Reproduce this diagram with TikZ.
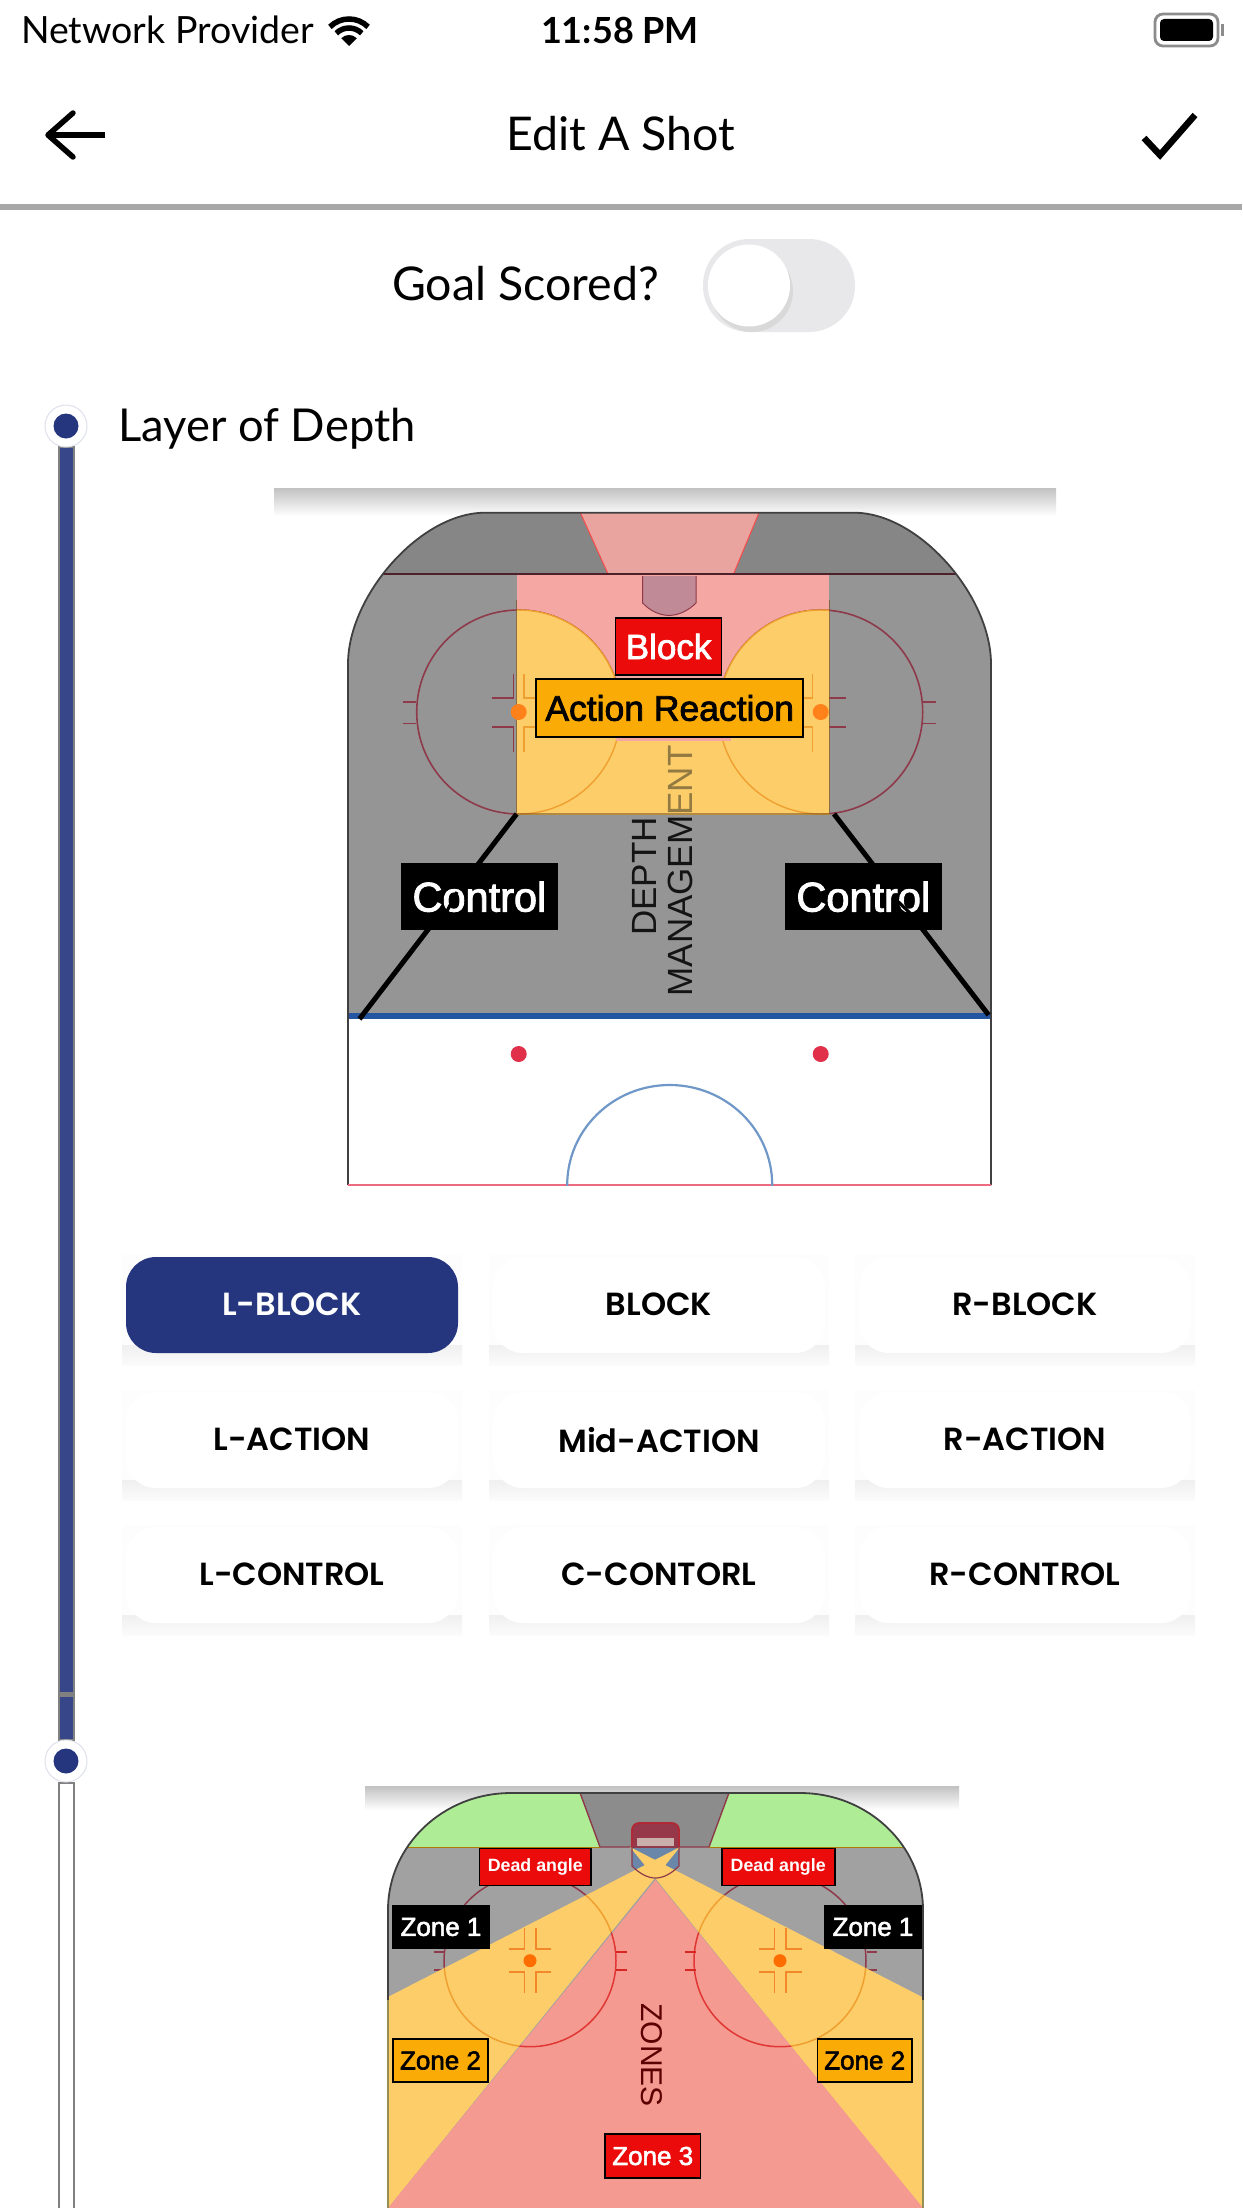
\documentclass[tikz,border=0pt]{standalone}
\usepackage{fontspec}
\setmainfont{Lato}
\newfontfamily\hel{Liberation Sans}
\newfontfamily\helb[FakeBold=2.2]{Liberation Sans}
\newfontfamily\btnf{Poppins SemiBold}
\usetikzlibrary{calc}
\definecolor{navy}{HTML}{25367F}
\definecolor{rinkgrey}{HTML}{959595}
\definecolor{rinktop}{HTML}{868686}
\definecolor{zpink}{HTML}{F4A7A3}
\definecolor{zyellow}{HTML}{FCCD69}
\definecolor{zred}{HTML}{F49A90}
\definecolor{zgreen}{HTML}{AEEC96}
\definecolor{dkred}{HTML}{8E3A4A}
\definecolor{orline}{HTML}{F0A030}
\definecolor{boxred}{HTML}{EC0B0B}
\definecolor{boxor}{HTML}{FBAB05}
\definecolor{blueline}{HTML}{2455A0}
\definecolor{creasea}{HTML}{C08A96}
\definecolor{creaseb}{HTML}{6A86A8}
\definecolor{netred}{HTML}{96384A}
\definecolor{reddot}{HTML}{E0304A}
\definecolor{creaseline}{HTML}{6F98C8}
\definecolor{pinkline}{HTML}{EE6A80}
\definecolor{track}{HTML}{E8E8EA}
\tikzset{
 label box/.style={draw=black,line width=1.6pt,inner sep=0pt,font=\hel},
 rbox/.style={label box,fill=boxred,text=white},
 obox/.style={label box,fill=boxor,text=black},
 kbox/.style={label box,fill=black,text=white},
 btn/.style={fill=white,rounded corners=30pt,minimum width=332pt,minimum height=96pt,inner sep=0pt,font=\btnf\fontsize{32}{36}\selectfont},
 plain/.style={inner sep=0pt,text=black},
}
\newcommand{\btnshadow}[2]{%
 \fill[black!0.7] (#1-170,#2-50) rectangle (#1+170,#2+60);
 \shade[top color=black!6,bottom color=black!1.5] (#1-170,#2+40) rectangle (#1+170,#2+60);
}
\begin{document}
\begin{tikzpicture}[x=1pt,y=-1pt]
\useasboundingbox (0,0) rectangle (1242,2208);
\fill[white] (0,0) rectangle (1242,2208);

% status bar
\node[plain,anchor=base west,font=\fontsize{37.5}{40}\selectfont] (net) at (21,44) {Network Provider};
\begin{scope}[shift={(349,46)},y=1pt]
 \fill (0,0) -- (45:11) arc (45:135:11) -- cycle;
 \draw[line width=5.5pt] (45:18) arc (45:135:18);
 \draw[line width=5.5pt] (45:27) arc (45:135:27);
\end{scope}
\node[plain,anchor=base,font=\bfseries\fontsize{36}{40}\selectfont] (time) at (620,44) {11:58 PM};
\draw[black!45,line width=2.8pt,rounded corners=8pt] (1155,14) rectangle (1218,46);
\fill[black,rounded corners=4pt] (1160,19) rectangle (1213,41);
\fill[black!45] (1221,24) rectangle (1224,36);

% top bar
\draw[line width=5.5pt] (105,135) -- (50,135);
\draw[line width=5.5pt,line cap=round,line join=round] (73,113) -- (48,135) -- (73,157);
\node[plain,anchor=base,font=\fontsize{46.5}{48}\selectfont] (title) at (621,150) {Edit A Shot};
\draw[line width=6.5pt,line join=miter] (1144,138) -- (1160,155) -- (1195,115);
\fill[black!34] (0,204) rectangle (1242,210);

% goal toggle
\node[plain,anchor=base west,font=\fontsize{46.5}{48}\selectfont] (goal) at (392,300) {Goal Scored?};
\fill[track,rounded corners=46pt] (703,239) rectangle (855,332);
\begin{scope}
 \clip[rounded corners=46pt] (703,239) rectangle (855,332);
 \fill[black!15] (752,291) circle[radius=41pt];
\end{scope}
\fill[white] (749,285.5) circle[radius=41pt];

% timeline
\draw[black!50,fill=navy!92!white,line width=2.5pt] (59,447) rectangle (74,1740);
\fill[black!50] (58,1692) rectangle (75,1697);
\node[circle,draw=navy!15,fill=white,line width=1pt,minimum size=42pt,inner sep=0pt] (d1) at (66,426) {};
\node[circle,fill=navy,minimum size=25pt,inner sep=0pt] (d1i) at (66,426) {};
\draw[black!50,fill=white,line width=2.5pt] (59,1783) rectangle (74,2215);
\node[circle,draw=navy!15,fill=white,line width=1pt,minimum size=42pt,inner sep=0pt] (d2) at (66,1761) {};
\node[circle,fill=navy,minimum size=25pt,inner sep=0pt] (d2i) at (66,1761) {};
\node[plain,anchor=base west,font=\fontsize{45.3}{48}\selectfont] (layer) at (118,441) {Layer of Depth};

%% ---------- first rink
\shade[top color=black!24,bottom color=white] (274,488) rectangle (1056,516);
\def\rinkA{(348,1185) -- (348,664) .. controls (348,596) and (420,512.7) .. (485,512.7) -- (854,512.7) .. controls (919,512.7) and (991,596) .. (991,664) -- (991,1185) -- cycle}
\fill[white] \rinkA;
\begin{scope}
 \clip \rinkA;
 \fill[rinkgrey] (340,574) rectangle (1000,1016);
 \fill[rinktop] (340,505) rectangle (1000,574);
\end{scope}
\fill[zpink!90!rinktop] (580.4,512.7) -- (759,512.7) -- (733.5,574) -- (608,574) -- cycle;
\draw[red!55!zpink,line width=1pt] (580.4,512.7) -- (608,574) (759,512.7) -- (733.5,574);
\fill[zpink] (516.6,574) rectangle (829.4,745);
% rink markings on grey
\foreach \cx in {518.7,820.7}{
 \draw[dkred,line width=1.6pt] (\cx,712) circle[radius=102pt];
}
\draw[dkred,line width=1.6pt] (402.9,701.7) -- (415.6,701.7) (402.9,723.5) -- (415.6,723.5)
  (936,701.7) -- (923,701.7) (936,723.5) -- (923,723.5);
\draw[dkred,line width=1.6pt] (492,698) -- (513.6,698) -- (513.6,673.6) (492,727) -- (513.6,727) -- (513.6,752)
  (845.7,698) -- (823.8,698) -- (823.8,673.6) (845.7,727) -- (823.8,727) -- (823.8,752);
% yellow zone
\begin{scope}
 \clip (516.6,574) rectangle (829.4,814);
 \fill[zyellow] (518.7,712) circle[radius=102pt] (820.7,712) circle[radius=102pt];
 \fill[zyellow] (516.6,741) rectangle (829.4,815);
 \draw[orline,line width=1.4pt] (518.7,712) circle[radius=102pt] (820.7,712) circle[radius=102pt];
\end{scope}
\draw[orline,line width=1.4pt] (523.8,673.6) -- (523.8,698) -- (540,698) (523.8,752) -- (523.8,727) -- (540,727)
  (812.5,673.6) -- (812.5,698) -- (798,698) (812.5,752) -- (812.5,727) -- (798,727);
\fill[zpink] (615.6,730) rectangle (731,741.4);
\fill[black!55!orline,opacity=.5] (516.6,812.5) rectangle (829.4,814.5);
\draw[black!55!orline,line width=.8pt,opacity=.6] (516.6,600) -- (516.6,814) (829.4,600) -- (829.4,814);
% goal, crease
\draw[dkred,fill=creasea,line width=1pt] (642.7,576) -- (642.7,603) .. controls (650,611) and (660,615.4) .. (669,615.4) .. controls (678,615.4) and (688,611) .. (696,603) -- (696,576);
% goal line
\draw[black!45!dkred,line width=2pt] (383,574) -- (956,574);
\fill[orange!90!red!90!white] (518.7,712) circle[radius=8pt] (820.7,712) circle[radius=8pt];
% rink outline
\draw[black!75,line width=1.8pt] (348,1185) -- (348,664) .. controls (348,596) and (420,512.7) .. (485,512.7) -- (854,512.7) .. controls (919,512.7) and (991,596) .. (991,664) -- (991,1185);
\draw[pinkline,line width=2pt] (348,1185) -- (991,1185);
\draw[blueline,line width=6pt] (349,1016) -- (990,1016);
\fill[reddot] (518.7,1054) circle[radius=8pt] (820.7,1054) circle[radius=8pt];
\begin{scope}
 \clip (560,1060) rectangle (790,1185);
 \draw[creaseline,line width=2.2pt] (669.7,1185) ellipse [x radius=102.5pt,y radius=100pt];
\end{scope}
% depth text
\node[plain,rotate=90,font=\hel\fontsize{35}{35}\selectfont,text=black!92] (depthtxt) at (644,876.5) {DEPTH};
\node[plain,rotate=90,font=\hel\fontsize{35}{35}\selectfont,text=black!92] (mantxt) at (680.6,871) {MANAGEMENT};
\fill[zyellow,opacity=.55] (660,741.4) rectangle (705,812.5);
% control lines
\coordinate (ctlA) at (516.6,814); \coordinate (ctlB) at (359.5,1019);
\coordinate (ctlC) at (834,814); \coordinate (ctlD) at (988.6,1015);
\draw[line width=5pt] (ctlA) -- (ctlB);
\draw[line width=5pt] (ctlC) -- (ctlD);
% label boxes
\node[rbox,minimum width=106pt,minimum height=57pt,font=\helb\fontsize{35}{35}\selectfont] (block) at (668.6,646.5) {Block};
\node[obox,minimum width=267pt,minimum height=57.5pt,font=\helb\fontsize{35.5}{35}\selectfont] (action) at (669.7,708) {Action Reaction};
\node[kbox,minimum width=155pt,minimum height=65.5pt,font=\helb\fontsize{41.5}{41}\selectfont] (ctl1) at (479.4,896.7) {Control};
\node[kbox,minimum width=155.7pt,minimum height=65.5pt,font=\helb\fontsize{41.5}{41}\selectfont] (ctl2) at (863.3,896.7) {Control};
\draw[line width=3.2pt] (457,892) -- (447,911);
\draw[line width=3.2pt] (892.7,896.5) -- (910.5,913.5);

%% ---------- buttons
\foreach \cx in {292,659,1025}{\foreach \cy in {1305,1440,1575}{\btnshadow{\cx}{\cy}}}
\node[btn,fill=navy,text=white] (b1) at (292,1305) {\raisebox{1pt}{L-BLOCK}};
\node[btn] (b2) at (659,1305) {\raisebox{1pt}{BLOCK}};
\node[btn] (b3) at (1025,1305) {\raisebox{1pt}{R-BLOCK}};
\node[btn] (b4) at (292,1440) {\raisebox{1pt}{L-ACTION}};
\node[btn] (b5) at (659,1440) {\raisebox{1pt}{Mid-ACTION}};
\node[btn] (b6) at (1025,1440) {\raisebox{1pt}{R-ACTION}};
\node[btn] (b7) at (292,1575) {\raisebox{1pt}{L-CONTROL}};
\node[btn] (b8) at (659,1575) {\raisebox{1pt}{C-CONTORL}};
\node[btn] (b9) at (1025,1575) {\raisebox{1pt}{R-CONTROL}};

%% ---------- second rink
\shade[top color=black!24,bottom color=white] (365,1786) rectangle (959,1810);
\def\rinkB{(388,2215) -- (388,1910) .. controls (388,1845.4) and (443,1793) .. (511,1793) -- (800,1793) .. controls (868,1793) and (923,1845.4) .. (923,1910) -- (923,2215) -- cycle}
\begin{scope}
 \clip \rinkB;
 \fill[black!37] (380,1847) rectangle (930,2215);
 \fill[zgreen] (380,1790) rectangle (600,1847);
 \fill[zgreen] (709,1790) rectangle (930,1847);
 \fill[black!45] (579,1790) -- (730,1790) -- (709,1847) -- (600,1847) -- cycle;
 \draw[dkred,line width=1.4pt] (579,1790) -- (600,1847) -- (709,1847) -- (730,1790);
 \draw[olive!70!red,line width=1pt] (380,1847) -- (600,1847) (709,1847) -- (930,1847);
 \draw[dkred,line width=1.5pt] (530,1960.7) circle[radius=86pt] (780,1960.7) circle[radius=86pt];
 \draw[dkred,line width=1.5pt] (434,1952) -- (445,1952) (434,1970) -- (445,1970) (866.5,1952) -- (877,1952) (866.5,1970) -- (877,1970);
 % crease
 \fill[creaseb] (632,1847) -- (632,1866) .. controls (640,1874) and (648,1878) .. (655.5,1878) .. controls (663,1878) and (671,1874) .. (679,1866) -- (679,1847) -- cycle;
 % zones
 \fill[zyellow] (680,1847) -- (380,2001) -- (380,2218) -- cycle;
 \fill[zyellow] (630,1847) -- (930,2001) -- (930,2218) -- cycle;
 \fill[zred] (655.5,1880) -- (388,2208) -- (388,2215) -- (923,2215) -- (923,2208) -- cycle;
 \begin{scope}
  \clip (680,1847) -- (380,2001) -- (380,2218) -- cycle;
  \draw[orline,line width=1.5pt] (530,1960.7) circle[radius=86pt];
 \end{scope}
 \begin{scope}
  \clip (630,1847) -- (930,2001) -- (930,2218) -- cycle;
  \draw[orline,line width=1.5pt] (780,1960.7) circle[radius=86pt];
 \end{scope}
 \begin{scope}
  \clip (655.5,1880) -- (388,2208) -- (923,2208) -- cycle;
  \draw[red!60!zred!90!black,line width=1.5pt] (530,1960.7) circle[radius=86pt] (780,1960.7) circle[radius=86pt];
 \end{scope}
\end{scope}
\draw[red!70!zred!85!black,line width=1.5pt] (615.5,1952) -- (626.5,1952) (615.5,1970) -- (626.5,1970) (685,1952) -- (696,1952) (685,1970) -- (696,1970);
\draw[orline!85!red,line width=1.5pt] (508.6,1949) -- (524.5,1949) -- (524.5,1928) (551.4,1949) -- (536,1949) -- (536,1928)
  (508.6,1972) -- (524.5,1972) -- (524.5,1993) (551.4,1972) -- (536,1972) -- (536,1993)
  (759,1949) -- (774.7,1949) -- (774.7,1928) (802.4,1949) -- (786,1949) -- (786,1928)
  (759,1972) -- (774.7,1972) -- (774.7,1993) (802.4,1972) -- (786,1972) -- (786,1993);
\fill[orange!85!red] (530,1960.7) circle[radius=6.5pt] (780,1960.7) circle[radius=6.5pt];
% goal net
\draw[dkred!70!red,fill=netred,line width=1.8pt,rounded corners=7pt] (632,1847) -- (632,1823) -- (679,1823) -- (679,1847);
\fill[zred!60!black!50] (637,1838) rectangle (674,1846);
\draw[dkred,line width=1.2pt] (632,1847) -- (632,1866) .. controls (640,1874) and (648,1878) .. (655.5,1878) .. controls (663,1878) and (671,1874) .. (679,1866) -- (679,1847);
\draw[dkred,line width=1.2pt] (632,1847) -- (679,1847);
% outline
\draw[black!75,line width=1.8pt] (388,2000) -- (388,1910) .. controls (388,1845.4) and (443,1793) .. (511,1793) -- (800,1793) .. controls (868,1793) and (923,1845.4) .. (923,1910) -- (923,2000);
\draw[olive!65!black!70,line width=1.4pt] (388,2000) -- (388,2215) (923,2000) -- (923,2215);
\node[plain,rotate=-90,font=\hel\fontsize{30}{31}\selectfont,text=black!35!red!55!black] (zonestxt) at (651.5,2055) {ZONES};
\node[rbox,minimum width=111.4pt,minimum height=37pt,font=\hel\bfseries\fontsize{17.8}{18}\selectfont] (da1) at (535.3,1867) {Dead angle};
\node[rbox,minimum width=113pt,minimum height=37pt,font=\hel\bfseries\fontsize{17.8}{18}\selectfont] (da2) at (778.2,1867) {Dead angle};
\node[kbox,minimum width=96pt,minimum height=42pt,font=\helb\fontsize{26}{26}\selectfont] (z1a) at (441,1927) {Zone 1};
\node[kbox,minimum width=97pt,minimum height=42pt,font=\helb\fontsize{26}{26}\selectfont] (z1b) at (873,1927) {Zone 1};
\node[obox,minimum width=95pt,minimum height=43pt,font=\helb\fontsize{26}{26}\selectfont] (z2a) at (440.5,2060.5) {Zone 2};
\node[obox,minimum width=94.5pt,minimum height=43pt,font=\helb\fontsize{26}{26}\selectfont] (z2b) at (864.7,2060.5) {Zone 2};
\node[rbox,minimum width=95.4pt,minimum height=44pt,font=\helb\fontsize{26}{26}\selectfont] (z3) at (652.7,2156) {Zone 3};
\end{tikzpicture}
\end{document}
